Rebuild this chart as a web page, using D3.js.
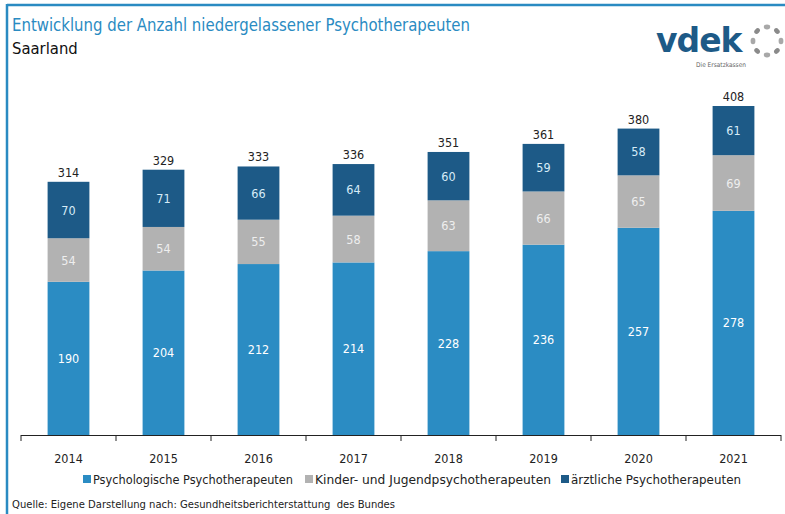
<!DOCTYPE html>
<html><head><meta charset="utf-8">
<script src="https://cdn.jsdelivr.net/npm/d3@7"></script>
<style>
html,body{margin:0;padding:0;background:#fff;}
svg{display:block;font-family:"DejaVu Sans Condensed","DejaVu Sans",sans-serif;font-stretch:condensed;}
</style></head>
<body>
<svg id="c" width="785" height="514"></svg>
<script>
const years = ["2014","2015","2016","2017","2018","2019","2020","2021"];
const psychologische = [190,204,212,214,228,236,257,278];
const kinderJugend = [54,54,55,58,63,66,65,69];
const aerztliche = [70,71,66,64,60,59,58,61];
const totals = [314,329,333,336,351,361,380,408];
const seriesNames = ["Psychologische Psychotherapeuten","Kinder- und Jugendpsychotherapeuten","ärztliche Psychotherapeuten"];
const seriesColors = ["#2b8cc3","#b2b2b2","#1d5a87"];
const labelColors = ["#ffffff","#eeeeee","#d6ecf7"];

const svg = d3.select("#c");
const W = 785, H = 514;
const frame = "#2a8bc2";

// frame
svg.append("line").attr("x1",7).attr("x2",W).attr("y1",5).attr("y2",5).attr("stroke",frame).attr("stroke-width",2.5);
svg.append("line").attr("x1",7).attr("x2",7).attr("y1",4).attr("y2",H).attr("stroke",frame).attr("stroke-width",2.5);

// title
svg.append("text").attr("x",12).attr("y",31).attr("fill","#2a8bc2").attr("font-size",17.5)
  .attr("textLength",458).attr("lengthAdjust","spacingAndGlyphs")
  .text("Entwicklung der Anzahl niedergelassener Psychotherapeuten");
svg.append("text").attr("x",12).attr("y",54).attr("fill","#111").attr("font-size",16.5).text("Saarland");

// logo
const logo = svg.append("g");
logo.append("text").attr("x",656).attr("y",52).attr("fill","#1d5a87").attr("font-size",33).attr("font-weight","bold")
  .attr("font-family","DejaVu Sans").style("font-stretch","normal").attr("letter-spacing",-1).text("vdek");
logo.append("text").attr("x",721).attr("y",66.5).attr("fill","#666").attr("font-size",6.5).attr("text-anchor","middle").text("Die Ersatzkassen");
const cx = 767, cy = 41, r = 14;
d3.range(8).forEach(i=>{
  const a = -Math.PI/2 + i*Math.PI/4;
  logo.append("ellipse").attr("cx",cx+r*Math.cos(a)).attr("cy",cy+r*Math.sin(a)).attr("rx",3.2).attr("ry",2.4)
    .attr("transform",`rotate(${a*180/Math.PI+90},${cx+r*Math.cos(a)},${cy+r*Math.sin(a)})`)
    .attr("fill",i%2? "#8a8a8a":"#a8a8a8");
});

// scales
const x = d3.scaleBand().domain(years).range([21,781]).paddingInner(0.56).paddingOuter(0.28);
const y = d3.scaleLinear().domain([0,408]).range([435,106]);

const data = years.map((yr,i)=>({year:yr, s0:psychologische[i], s1:kinderJugend[i], s2:aerztliche[i]}));
const stack = d3.stack().keys(["s0","s1","s2"])(data);

const g = svg.append("g");
stack.forEach((layer,li)=>{
  g.selectAll(null).data(layer).enter().append("rect")
    .attr("x",d=>x(d.data.year)).attr("width",x.bandwidth())
    .attr("y",d=>y(d[1])).attr("height",d=>y(d[0])-y(d[1]))
    .attr("fill",seriesColors[li]);
  g.selectAll(null).data(layer).enter().append("text")
    .attr("x",d=>x(d.data.year)+x.bandwidth()/2).attr("y",d=>(y(d[0])+y(d[1]))/2+4.5)
    .attr("text-anchor","middle").attr("font-size",12.5).attr("fill",labelColors[li])
    .text(d=>d[1]-d[0]);
});
g.selectAll(null).data(years).enter().append("text")
  .attr("x",d=>x(d)+x.bandwidth()/2).attr("y",(d,i)=>y(totals[i])-5)
  .attr("text-anchor","middle").attr("font-size",12.5).attr("fill","#222")
  .text((d,i)=>totals[i]);

// axis
const axisG = svg.append("g");
axisG.append("line").attr("x1",21).attr("x2",781).attr("y1",435.5).attr("y2",435.5).attr("stroke","#222").attr("stroke-width",1);
d3.range(years.length+1).forEach(i=>{
  const xx = 21 + i*(760/years.length);
  axisG.append("line").attr("x1",xx).attr("x2",xx).attr("y1",435).attr("y2",441).attr("stroke","#222");
});
axisG.selectAll(null).data(years).enter().append("text")
  .attr("x",d=>x(d)+x.bandwidth()/2).attr("y",463).attr("text-anchor","middle").attr("font-size",12.5).attr("fill","#222").text(d=>d);

// legend
const legX = [83,305,561];
const legW = [200,236,170];
seriesNames.forEach((n,i)=>{
  svg.append("rect").attr("x",legX[i]).attr("y",475).attr("width",8).attr("height",8).attr("fill",seriesColors[i]);
  svg.append("text").attr("x",legX[i]+10).attr("y",484).attr("font-size",13).attr("fill","#222")
    .attr("textLength",legW[i]).attr("lengthAdjust","spacingAndGlyphs").text(n);
});

// source
svg.append("text").attr("x",12).attr("y",508).attr("font-size",11).attr("fill","#222").attr("xml:space","preserve")
  .attr("textLength",383).attr("lengthAdjust","spacingAndGlyphs")
  .text("Quelle: Eigene Darstellung nach: Gesundheitsberichterstattung  des Bundes");
</script>
</body></html>
